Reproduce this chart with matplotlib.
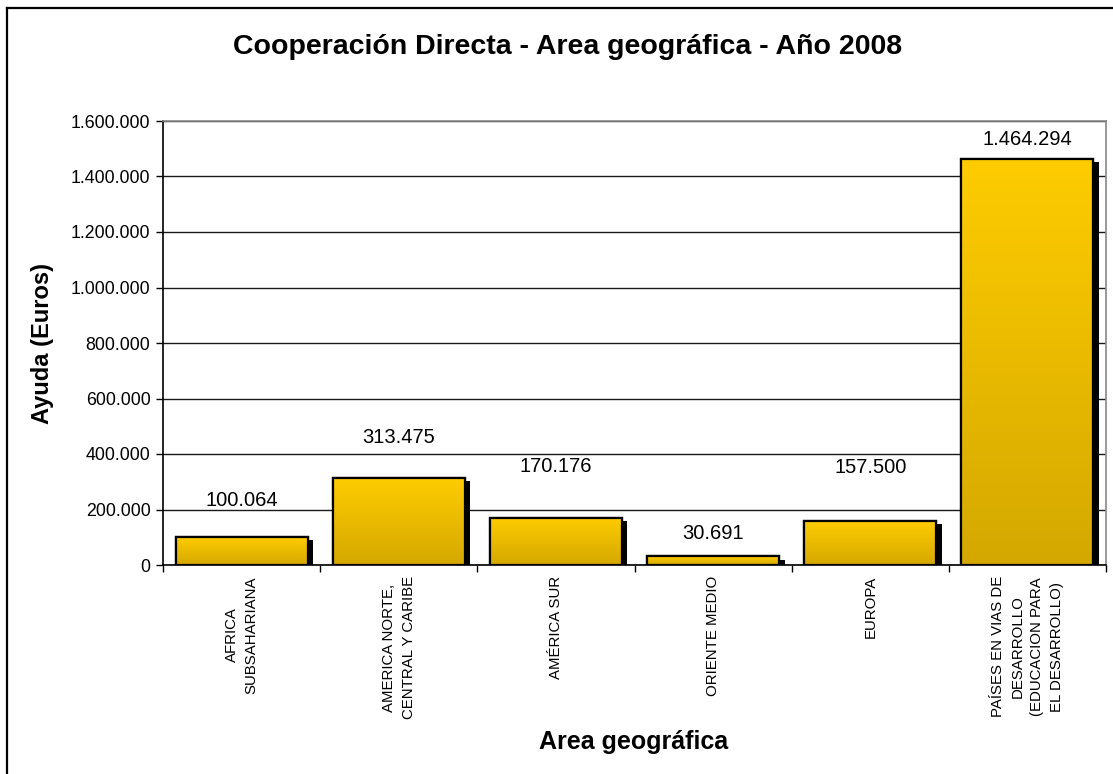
import matplotlib
matplotlib.use("Agg")
import matplotlib.pyplot as plt
import numpy as np
from matplotlib.ticker import FuncFormatter, MultipleLocator
from matplotlib.lines import Line2D
from matplotlib.colors import LinearSegmentedColormap
import matplotlib.patheffects as pe

plt.rcParams['font.family'] = ['Liberation Sans', 'DejaVu Sans']

categories = [
    "AFRICA\nSUBSAHARIANA",
    "AMERICA NORTE,\nCENTRAL Y CARIBE",
    "AMÉRICA SUR",
    "ORIENTE MEDIO",
    "EUROPA",
    "PAÍSES EN VIAS DE\nDESARROLLO\n(EDUCACION PARA\nEL DESARROLLO)",
]
values = [100064, 313475, 170176, 30691, 157500, 1464294]
label_offsets_px = [37, 41, 51, 23, 54, 19]

title = "Cooperación Directa - Area geográfica - Año 2008"
ylabel = "Ayuda (Euros)"
xlabel = "Area geográfica"

def fmt_thousands(v, pos=None):
    return f"{int(round(v)):,}".replace(",", ".")

W, H = 1113, 774
fig = plt.figure(figsize=(W / 100, H / 100), dpi=100)
ax = fig.add_axes([163 / W, 1 - 565 / H, (1106 - 163) / W, (565 - 121) / H])

x = np.arange(len(values))
bar_w = 0.84
bars = ax.bar(x, values, width=bar_w, color='none', edgecolor='black',
              linewidth=1.6, zorder=3)

grad = np.linspace(0, 1, 256).reshape(-1, 1)
cmap = LinearSegmentedColormap.from_list('gold', ['#d4a800', '#ffcc00'])
for b in bars:
    bx, by = b.get_x(), b.get_y()
    bw, bh = b.get_width(), b.get_height()
    sh = plt.Rectangle((bx, by), bw, bh, facecolor='black', edgecolor='black',
                       linewidth=1.6, zorder=2,
                       path_effects=[pe.SimplePatchShadow(offset=(4.0, -2.2),
                                                          shadow_rgbFace='black', alpha=1.0),
                                     pe.Normal()])
    ax.add_patch(sh)
    im = ax.imshow(grad, extent=[bx, bx + bw, by, by + bh], origin='lower',
                   cmap=cmap, aspect='auto', zorder=2.5)
    im.set_clip_path(b)

ax.set_xlim(-0.5, len(values) - 0.5)
ax.set_ylim(0, 1600000)
ax.yaxis.set_major_locator(MultipleLocator(200000))
ax.yaxis.set_major_formatter(FuncFormatter(fmt_thousands))
ax.grid(axis='y', color='#1a1a1a', linewidth=1.0, zorder=0)
ax.set_axisbelow(True)

ax.set_xticks(np.arange(len(values) + 1) - 0.5)
ax.set_xticklabels([])
ax.set_xticks(x, minor=True)
ax.set_xticklabels(categories, minor=True, rotation=90, ha='center', va='top',
                   multialignment='center', fontsize=10.8, linespacing=1.54)
ax.tick_params(axis='x', which='minor', length=0, pad=8)
ax.tick_params(axis='x', which='major', length=5, width=1, direction='out', color='black')
ax.tick_params(axis='y', length=5, width=1, direction='out', labelsize=12.8, pad=4)

for s in ['top', 'right']:
    ax.spines[s].set_color('#888888')
    ax.spines[s].set_linewidth(1.2)
for s in ['left', 'bottom']:
    ax.spines[s].set_color('black')
    ax.spines[s].set_linewidth(1.2)

for xi, v, off in zip(x, values, label_offsets_px):
    ax.annotate(fmt_thousands(v), (xi, v), xytext=(0, off * 0.72),
                textcoords='offset points', ha='center', va='center',
                fontsize=14.5, zorder=5)

fig.text(568 / W, 1 - 47 / H, title, ha='center', va='center',
         fontsize=20.5, fontweight='bold')
fig.text(43 / W, 1 - 343 / H, ylabel, ha='center', va='center', rotation=90,
         fontsize=17, fontweight='bold')
fig.text(634 / W, 1 - 742 / H, xlabel, ha='center', va='center',
         fontsize=18, fontweight='bold')

# outer frame (partially visible)
fig.add_artist(Line2D([7 / W, 7 / W], [0, 1 - 8 / H], color='black', linewidth=1.6,
                      transform=fig.transFigure))
fig.add_artist(Line2D([7 / W, 1], [1 - 8 / H, 1 - 8 / H], color='black', linewidth=1.6,
                      transform=fig.transFigure))

fig.savefig('out.png', dpi=100)
